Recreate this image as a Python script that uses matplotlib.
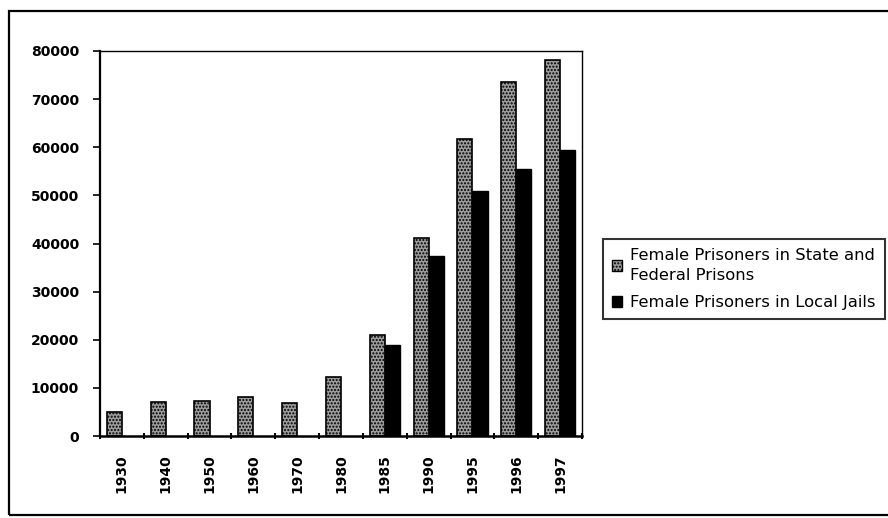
import matplotlib
matplotlib.use("Agg")
import matplotlib.pyplot as plt
import matplotlib.patches as mpatches
import numpy as np

years = ["1930", "1940", "1950", "1960", "1970", "1980", "1985", "1990", "1995", "1996", "1997"]
state_federal = [5000, 7100, 7300, 8200, 6900, 12200, 20900, 41100, 61700, 73600, 78100]
local_jails = [np.nan, np.nan, np.nan, np.nan, np.nan, np.nan, 19000, 37300, 50900, 55500, 59400]
y_ticks = [0, 10000, 20000, 30000, 40000, 50000, 60000, 70000, 80000]
legend_labels = ["Female Prisoners in State and\nFederal Prisons", "Female Prisoners in Local Jails"]

W, H = 888, 518
fig = plt.figure(figsize=(W / 100, H / 100), dpi=100)
fig.patch.set_facecolor("white")

# outer frame
fig.add_artist(mpatches.Rectangle((9 / W, 3 / H), (W - 8) / W, (H - 14) / H,
                                  transform=fig.transFigure, fill=False,
                                  edgecolor="black", linewidth=1.6))

ax = fig.add_axes([100 / W, (H - 436) / H, 482 / W, 385 / H])
x = np.arange(len(years))
bw = 0.345
ax.bar(x - bw / 2, state_federal, width=bw, facecolor="#9c9c9c", edgecolor="black",
       hatch=".....", linewidth=1.2, label=legend_labels[0])
ax.bar(x + bw / 2, local_jails, width=bw, facecolor="black", edgecolor="black",
       linewidth=1.0, label=legend_labels[1])

ax.set_xlim(-0.5, len(years) - 0.5)
ax.set_ylim(0, 80000)
ax.set_yticks(y_ticks)
ax.set_yticklabels([str(v) for v in y_ticks], fontfamily="DejaVu Sans",
                   fontweight="bold", fontsize=10)
ax.set_xticks(x)
ax.set_xticklabels(years, rotation=90, fontfamily="DejaVu Sans",
                   fontweight="bold", fontsize=10)
ax.tick_params(axis="x", which="major", length=0, pad=13)
ax.set_xticks(np.arange(-0.5, len(years) + 0.5, 1), minor=True)
ax.tick_params(axis="x", which="minor", length=4, width=1.5, direction="inout")
ax.tick_params(axis="y", length=5, width=1.2, direction="out", pad=10)
for s in ax.spines.values():
    s.set_linewidth(1.0)
ax.spines["left"].set_linewidth(1.6)
ax.spines["bottom"].set_linewidth(1.8)

handles = [mpatches.Patch(facecolor="#9c9c9c", edgecolor="black", hatch="....."),
           mpatches.Patch(facecolor="black", edgecolor="black")]
leg = fig.legend(handles, legend_labels, loc="upper left",
                 bbox_to_anchor=(603 / W, 1 - 239 / H), frameon=True,
                 fancybox=False, edgecolor="black", handlelength=0.6,
                 handleheight=0.6, handletextpad=0.5, borderpad=0.55,
                 labelspacing=0.75, borderaxespad=0,
                 prop={"family": "DejaVu Sans", "size": 11.8})
for t in leg.get_texts():
    t.set_linespacing(1.4)
leg.get_frame().set_linewidth(1.5)

fig.savefig("out.png", dpi=100)
